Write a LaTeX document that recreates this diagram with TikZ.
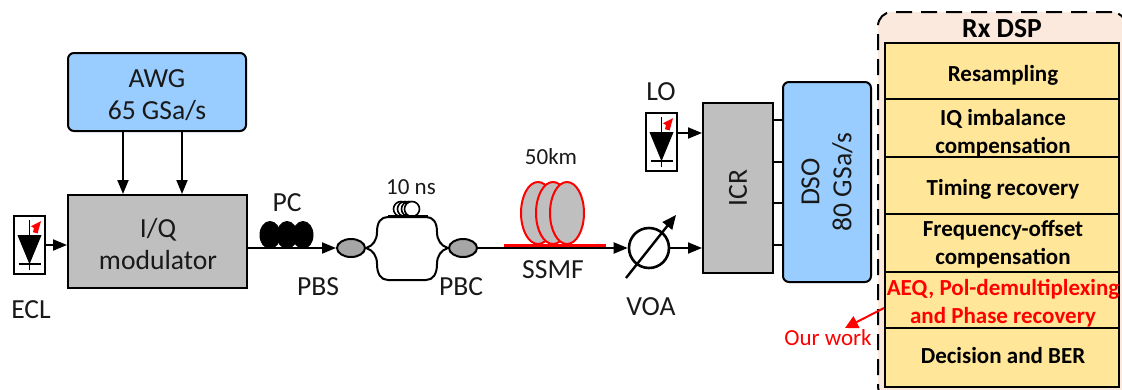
\documentclass[tikz,border=0pt]{standalone}
\usepackage{fontspec}
\setmainfont{Carlito}
\usetikzlibrary{arrows.meta,shapes.geometric}
\definecolor{bluebox}{HTML}{99CCFF}
\definecolor{greybox}{HTML}{BFBFBF}
\definecolor{greyel}{HTML}{A6A6A6}
\definecolor{yelbox}{HTML}{FFE699}
\definecolor{peach}{HTML}{FBE9DD}
\definecolor{redx}{HTML}{FF0000}
\tikzset{
  lbl/.style={inner sep=0pt,align=center,font=\fontsize{27.6}{32}\selectfont,text=black!90},
  small/.style={inner sep=0pt,align=center,font=\fontsize{23}{27}\selectfont,text=black!90},
  dsptext/.style={inner sep=0pt,align=center,font=\fontsize{23}{27.5}\selectfont\bfseries},
  boxg/.style={draw=black,line width=2pt,fill=greybox,inner sep=0pt},
  boxb/.style={draw=black,line width=2pt,fill=bluebox,rounded corners=6pt,inner sep=0pt},
  dspbox/.style={draw=black,line width=1.8pt,fill=yelbox,inner sep=0pt,minimum width=234pt},
  conn/.style={draw=black,line width=2pt},
  arr/.style={conn,-{Triangle[length=14pt,width=11pt]}},
  laserbox/.style={draw=black,line width=1.6pt,fill=white,inner sep=0pt,minimum width=31pt,minimum height=58pt},
  coup/.style={draw=black,line width=2pt,fill=greyel,ellipse,inner sep=0pt,minimum width=28pt,minimum height=18pt},
  pcloop/.style={fill=black,ellipse,inner sep=0pt,minimum width=21pt,minimum height=28pt},
  spool/.style={draw=redx,line width=2pt,fill=greybox,ellipse,inner sep=0pt,minimum width=34pt,minimum height=62pt},
}
% laser symbol drawn inside a named box
\newcommand{\lasersym}[1]{%
  \draw[line width=1.8pt] ([yshift=-5pt]#1.north) -- ++(0,-50pt);
  \fill ([xshift=-12pt,yshift=-20pt]#1.north) -- ++(24pt,0) -- ++(-12pt,-29pt) -- cycle;
  \draw[line width=1.6pt] ([xshift=-11pt,yshift=-49pt]#1.north) -- ++(22pt,0);
  \fill[redx] ([xshift=11.5pt,yshift=-6pt]#1.north) -- ++(-10pt,-5pt) -- ++(3pt,-2pt) -- ++(-1pt,-4pt) -- ++(4pt,-1pt) -- ++(0.5pt,-0.5pt) -- cycle;
}
\begin{document}
\begin{tikzpicture}[x=1pt,y=-1pt]
\useasboundingbox (0,0) rectangle (1122,389);
% Rx DSP panel
\begin{scope}
\clip (0,0) rectangle (1122,389);
\node[draw=black,line width=2pt,dash pattern=on 16pt off 9pt,fill=peach,rounded corners=14pt,minimum width=248pt,minimum height=388pt,inner sep=0pt] (panel) at (1002,206) {};
\end{scope}
\node[inner sep=0pt,font=\fontsize{27.6}{32}\selectfont\bfseries] (rxt) at (1002,29) {Rx DSP};
\node[dspbox,minimum height=56pt] (b1) at (1002,71) {};
\node[dspbox,minimum height=58pt] (b2) at (1002,128) {};
\node[dspbox,minimum height=57pt] (b3) at (1002,185.5) {};
\node[dspbox,minimum height=58pt] (b4) at (1002,243) {};
\node[dspbox,minimum height=56pt] (b5) at (1002,300) {};
\node[dspbox,minimum height=59pt] (b6) at (1002,357.5) {};
\node[dsptext] (t1) at (1003,75) {Resampling};
\node[dsptext] (t2) at (1003,133) {IQ imbalance\\compensation};
\node[dsptext] (t3) at (1003,189) {Timing recovery};
\node[dsptext] (t4) at (1003,244) {Frequency-offset\\compensation};
\node[dsptext,text=redx] (t5) at (1003,303) {AEQ, Pol-demultiplexing\\and Phase recovery};
\node[dsptext] (t6) at (1003,356) {Decision and BER};
% main blocks
\node[boxb,minimum width=178pt,minimum height=78pt] (awg) at (157,92) {};
\node[lbl] (awgt) at (157,95) {AWG\\65 GSa/s};
\node[boxg,minimum width=179pt,minimum height=93pt] (iq) at (157.5,241.5) {};
\node[lbl] (iqt) at (158,244) {I/Q\\modulator};
\node[laserbox] (ecl) at (29.5,245) {};
\lasersym{ecl}
\node[laserbox] (lo) at (661.5,142) {};
\lasersym{lo}
\node[boxg,minimum width=70pt,minimum height=170pt] (icr) at (738,188) {};
\node[lbl,rotate=90] (icrt) at (738,188) {ICR};
\node[boxb,minimum width=88pt,minimum height=200pt] (dso) at (827,182) {};
\node[lbl,rotate=90] (dsot) at (827,182) {DSO\\80 GSa/s};
% labels
\node[lbl] (ecll) at (31,310) {ECL};
\node[lbl] (lol) at (661,92) {LO};
\node[lbl] (pcl) at (287,203) {PC};
\node[lbl] (pbsl) at (318,287) {PBS};
\node[lbl] (pbcl) at (461,287) {PBC};
\node[lbl] (ssmfl) at (553,270) {SSMF};
\node[lbl] (voal) at (651,307) {VOA};
\node[small] (nsl) at (411,187) {10 ns};
\node[small] (kml) at (551,157) {50km};
\node[small,text=redx] (work) at (828,338) {Our work};
% tap positions
\coordinate (ta) at (123,160);
\coordinate (tb) at (182,160);
\draw[arr] (ta |- awg.south) -- (ta |- iq.north);
\draw[arr] (tb |- awg.south) -- (tb |- iq.north);
\draw[arr] (ecl.east) -- (iq.west |- ecl.east);
% polarization controller
\node[pcloop] (pc1) at (270,235) {};
\node[pcloop] (pc2) at (287,235) {};
\node[pcloop] (pc3) at (303,235) {};
% couplers
\node[coup] (pbs) at (351,248) {};
\node[coup] (pbc) at (463,248) {};
\coordinate (iqo) at (iq.east |- pbs);
\draw[arr] (iqo) -- (pbs.west);
% delay arms
\draw[conn] (pbs.east) .. controls (373,246) and (377,240) .. (377,232) .. controls (377,222) and (381,217) .. (388,217) -- (426,217) .. controls (433,217) and (437,222) .. (437,232) .. controls (437,240) and (441,246) .. (pbc.west);
\draw[conn] (pbs.east) .. controls (373,250) and (377,256) .. (377,264) .. controls (377,274) and (381,280) .. (388,280) -- (426,280) .. controls (433,280) and (437,274) .. (437,264) .. controls (437,256) and (441,250) .. (pbc.west);
\node[draw=black,line width=1.6pt,circle,inner sep=0pt,minimum size=15pt] (c1) at (401,209) {};
\node[draw=black,line width=1.6pt,circle,inner sep=0pt,minimum size=15pt] (c2) at (405,209) {};
\node[draw=black,line width=1.6pt,circle,inner sep=0pt,minimum size=15pt] (c3) at (409,209) {};
\node[draw=black,line width=1.6pt,fill=white,circle,inner sep=0pt,minimum size=15pt] (c4) at (412,209) {};
\draw[conn] (388,216) -- (428,216);
% fibre spool
\node[spool] (s1) at (538,213) {};
\node[spool] (s2) at (553,213) {};
\node[spool] (s3) at (567,213) {};
\draw[draw=redx,line width=3pt] (504,245.5) -- (606,245.5);
% VOA
\node[draw=black,line width=2.6pt,circle,inner sep=0pt,minimum size=40pt] (voa) at (649,248) {};
\coordinate (voas) at (626,278);
\coordinate (voae) at (676,215);
\draw[conn,line width=2.4pt,-{Triangle[length=14pt,width=12pt]}] (voas) -- (voae);
\draw[arr] (pbc.east) -- (voa.west);
\draw[arr] (voa.east) -- (icr.west |- voa.east);
\draw[arr] (lo.east |- 0,133) -- (icr.west |- 0,133);
% ICR to DSO
\foreach \yy in {120,162,203,245}{\draw[conn] (icr.east |- 0,\yy) -- (dso.west |- 0,\yy);}
% our work arrow
\coordinate (wk) at (845,328);
\draw[draw=redx,line width=2pt,-{Triangle[length=13pt,width=13pt]}] (b5.west |- 0,308) -- (wk);
\end{tikzpicture}
\end{document}
